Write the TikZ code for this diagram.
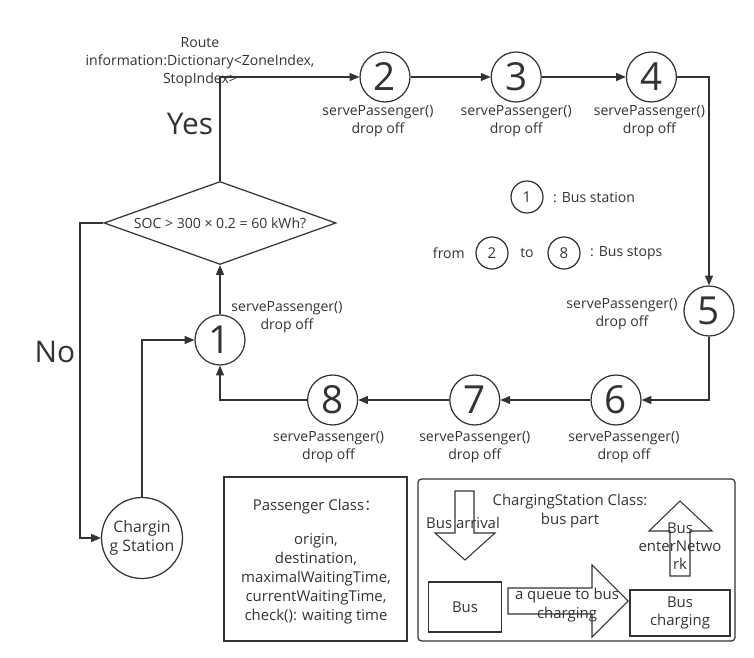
\documentclass[tikz,border=0pt]{standalone}
\usepackage{fontspec}
\setmainfont{Open Sans}
\newfontfamily\cjk{Noto Sans CJK SC}
\usetikzlibrary{shapes.geometric,arrows.meta,positioning}
\definecolor{ink}{HTML}{333333}

\begin{document}
\begin{tikzpicture}[x=0.02cm,y=-0.02cm,color=ink,line width=0.7pt,
    stop/.style={circle,draw,minimum size=1cm,inner sep=0pt,font=\fontsize{22}{22}\selectfont},
    key/.style={circle,draw,minimum size=0.64cm,inner sep=0pt,font=\fontsize{8.5}{10}\selectfont},
    lab/.style={align=center,inner sep=0pt,font=\fontsize{8}{10.2}\selectfont},
    big/.style={inner sep=0pt,font=\fontsize{17}{17}\selectfont},
    conn/.style={-{Triangle[length=5.5pt,width=4.5pt]}},
    blk/.style={line width=0.6pt}]
    \useasboundingbox (0,0) rectangle (754,658);
    \node[stop] (n2) at (385,77) {2};
    \node[stop,right=1.6cm of n2] (n3) {3};
    \node[stop,right=1.68cm of n3] (n4) {4};
    \node[stop] (n5) at (709,311) {5};
    \node[stop] (n6) at (616,400) {6};
    \node[stop,left=1.8cm of n6] (n7) {7};
    \node[stop,left=1.82cm of n7] (n8) {8};
    \node[stop] (n1) at (220,340) {1};
    \node[diamond,draw,minimum width=4.64cm,minimum height=1.66cm,inner sep=0pt,font=\fontsize{8}{10}\selectfont] (soc) at (220,223) {\makebox[0pt]{SOC > 300 × 0.2 = 60 kWh?}};
    \node[circle,draw,minimum size=1.62cm,inner sep=0pt,align=center,font=\fontsize{9}{11}\selectfont] (cs) at (142,538) {Chargin\\g Station};
    \coordinate (nobend) at (80,223);
    \node[lab] (route) at (200,62) {Route\\information:Dictionary<ZoneIndex,\\StopIndex>};
    \node[big] (yes) at (190,124) {Yes};
    \node[big] (no) at (55,352) {No};
    \node[lab,below=0.05cm of n2,xshift=-0.14cm] (l2) {servePassenger()\\drop off};
    \node[lab,below=0.05cm of n3] (l3) {servePassenger()\\drop off};
    \node[lab,below=0.05cm of n4,xshift=-0.04cm] (l4) {servePassenger()\\drop off};
    \node[lab] (l5) at (622,314) {servePassenger()\\drop off};
    \node[lab,below=0.1cm of n6,xshift=0.16cm] (l6) {servePassenger()\\drop off};
    \node[lab,below=0.1cm of n7] (l7) {servePassenger()\\drop off};
    \node[lab,below=0.1cm of n8,xshift=-0.08cm] (l8) {servePassenger()\\drop off};
    \node[lab] (l1) at (287,317) {servePassenger()\\drop off};
    \draw[conn] (soc.north) |- (n2);
    \draw[conn] (n2) -- (n3);
    \draw[conn] (n3) -- (n4);
    \draw[conn] (n4) -| (n5);
    \draw[conn] (n5) |- (n6);
    \draw[conn] (n6) -- (n7);
    \draw[conn] (n7) -- (n8);
    \draw[conn] (n8) -| (n1);
    \draw[conn] (n1) -- (soc);
    \draw[conn] (soc.west) -- (nobend) |- (cs);
    \draw[conn] (cs) |- (n1);
    \node[key] (k1) at (527,197) {1};
    \node[lab,right=0.18cm of k1] (kt1) {: Bus station};
    \node[key] (k2) at (492,253) {2};
    \node[lab,left=0.2cm of k2] (from) {from};
    \node[lab] (to) at (527,253) {to};
    \node[key] (k8) at (564,253) {8};
    \node[lab,right=0.18cm of k8] (kt2) {: Bus stops};
    \draw (224,477) rectangle (407,641);
    \node[lab,font=\fontsize{8.5}{10.8}\selectfont] (pc) at (316,507) {Passenger Class{\cjk ：}};
    \node[lab,font=\fontsize{8.5}{10.8}\selectfont] (pattr) at (316,579) {origin,\\destination,\\maximalWaitingTime,\\currentWaitingTime,\\check(): waiting time};
    \draw[rounded corners=2pt] (418,479) rectangle (735,641);
    \node[lab,font=\fontsize{8.5}{10.4}\selectfont] (csc) at (570,511) {ChargingStation Class:\\bus part};
    \draw[blk] (455,491) -- (474,491) -- (474,533) -- (495,533) -- (465,560) -- (435,533) -- (455,533) -- cycle;
    \draw[blk] (680,501) -- (712,531) -- (690,531) -- (690,576) -- (670,576) -- (670,531) -- (649,531) -- cycle;
    \draw[blk] (508,588) -- (592,588) -- (592,565) -- (628,601) -- (592,637) -- (592,614) -- (508,614) -- cycle;
    \node[draw,minimum width=1.46cm,minimum height=1cm,inner sep=0pt,font=\fontsize{8.5}{10.4}\selectfont] (bus) at (465,607) {Bus};
    \node[draw,minimum width=2cm,minimum height=0.92cm,inner sep=0pt,align=center,font=\fontsize{8.5}{10.4}\selectfont] (bch) at (680,613) {Bus\\charging};
    \node[lab,font=\fontsize{8.5}{10.4}\selectfont] (arr) at (463,523) {Bus arrival};
    \node[lab,font=\fontsize{8.5}{10.4}\selectfont] (enter) at (680,546) {Bus\\enterNetwo\\rk};
    \node[lab,font=\fontsize{8.5}{10.4}\selectfont] (queue) at (567,605) {a queue to bus\\charging};
\end{tikzpicture}
\end{document}
